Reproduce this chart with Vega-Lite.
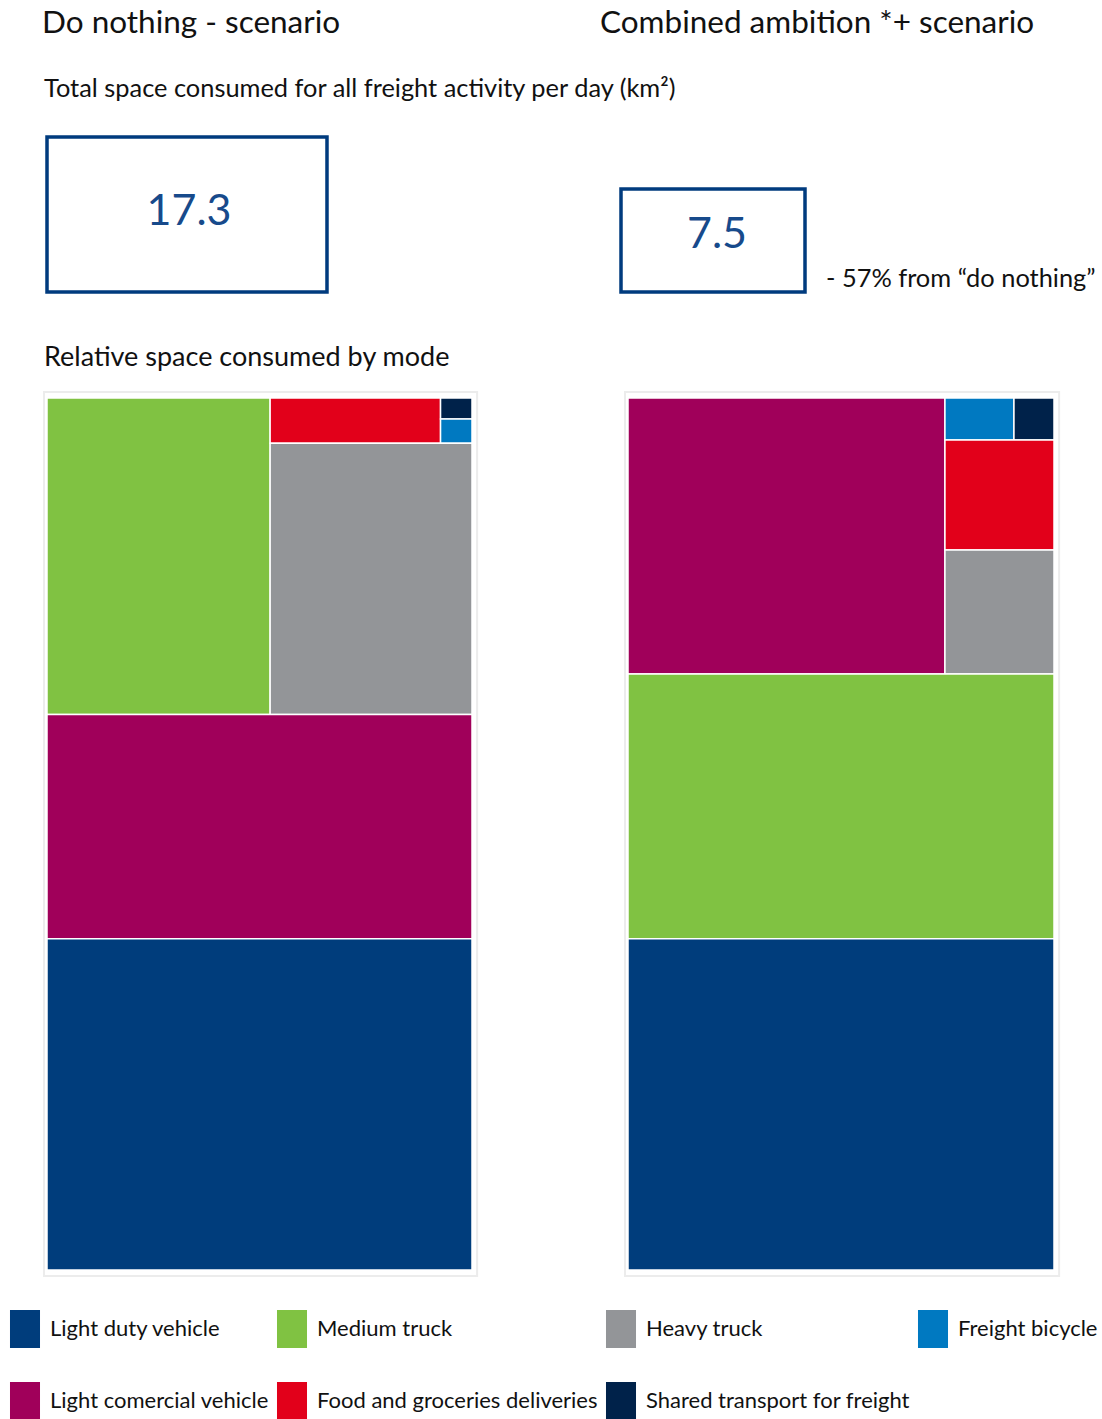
{
  "$schema": "https://vega.github.io/schema/vega-lite/v6.json",
  "padding": {"left": 6, "top": 0, "right": 0, "bottom": 0},
  "autosize": {"type": "pad"},
  "background": "white",
  "config": {"view": {"stroke": null}, "font": "Lato"},
  "datasets": {
    "tiles": [
      {"scenario": "Do nothing", "mode": "Medium truck", "x0": 0, "x1": 52.5, "y0": 0, "y1": 36.3},
      {"scenario": "Do nothing", "mode": "Food and groceries deliveries", "x0": 52.5, "x1": 92.6, "y0": 0, "y1": 5.2},
      {"scenario": "Do nothing", "mode": "Shared transport for freight", "x0": 92.6, "x1": 100, "y0": 0, "y1": 2.4},
      {"scenario": "Do nothing", "mode": "Freight bicycle", "x0": 92.6, "x1": 100, "y0": 2.4, "y1": 5.2},
      {"scenario": "Do nothing", "mode": "Heavy truck", "x0": 52.5, "x1": 100, "y0": 5.2, "y1": 36.3},
      {"scenario": "Do nothing", "mode": "Light comercial vehicle", "x0": 0, "x1": 100, "y0": 36.3, "y1": 62.0},
      {"scenario": "Do nothing", "mode": "Light duty vehicle", "x0": 0, "x1": 100, "y0": 62.0, "y1": 100},
      {"scenario": "Combined ambition", "mode": "Light comercial vehicle", "x0": 0, "x1": 74.4, "y0": 0, "y1": 31.65},
      {"scenario": "Combined ambition", "mode": "Freight bicycle", "x0": 74.4, "x1": 90.6, "y0": 0, "y1": 4.82},
      {"scenario": "Combined ambition", "mode": "Shared transport for freight", "x0": 90.6, "x1": 100, "y0": 0, "y1": 4.82},
      {"scenario": "Combined ambition", "mode": "Food and groceries deliveries", "x0": 74.4, "x1": 100, "y0": 4.82, "y1": 17.43},
      {"scenario": "Combined ambition", "mode": "Heavy truck", "x0": 74.4, "x1": 100, "y0": 17.43, "y1": 31.65},
      {"scenario": "Combined ambition", "mode": "Medium truck", "x0": 0, "x1": 100, "y0": 31.65, "y1": 62.0},
      {"scenario": "Combined ambition", "mode": "Light duty vehicle", "x0": 0, "x1": 100, "y0": 62.0, "y1": 100}
    ],
    "totals": [
      {"scenario": "Do nothing", "total": 17.3},
      {"scenario": "Combined ambition", "total": 7.5}
    ]
  },
  "bounds": "flush",
  "spacing": 156,
  "hconcat": [
    {
      "width": 425,
      "height": 1270,
      "layer": [
        {
          "data": {"values": [{}]},
          "mark": {"type": "rect", "fill": null, "stroke": "#ececec", "strokeWidth": 2},
          "encoding": {
            "x": {"datum": -0.7, "type": "quantitative", "scale": {"domain": [0, 100], "nice": false, "zero": false}, "axis": null},
            "x2": {"datum": 101.2},
            "y": {"datum": -0.7, "type": "quantitative", "scale": {"domain": [-45.642, 100], "reverse": true, "nice": false, "zero": false}, "axis": null},
            "y2": {"datum": 100.7}
          }
        },
        {
          "data": {"name": "tiles"},
          "transform": [{"filter": "datum.scenario === 'Do nothing'"}],
          "mark": {"type": "rect", "stroke": "white", "strokeWidth": 1.5},
          "encoding": {
            "x": {"field": "x0", "type": "quantitative", "scale": {"domain": [0, 100], "nice": false, "zero": false}, "axis": null},
            "x2": {"field": "x1"},
            "y": {"field": "y0", "type": "quantitative", "scale": {"domain": [-45.642, 100], "reverse": true, "nice": false, "zero": false}, "axis": null},
            "y2": {"field": "y1"},
            "color": {
              "field": "mode", "type": "nominal",
              "scale": {
                "domain": ["Light duty vehicle", "Medium truck", "Heavy truck", "Freight bicycle", "Light comercial vehicle", "Food and groceries deliveries", "Shared transport for freight"],
                "range": ["#003D7C", "#80C242", "#939598", "#0079C1", "#A0005A", "#E2001A", "#00224A"]
              },
              "legend": {"orient": "none", "legendX": -41, "legendY": 1310, "columns": 4, "direction": "horizontal", "title": null, "symbolType": "M-0.79,-1H0.79V1H-0.79Z", "symbolSize": 1444, "symbolStrokeWidth": 0, "symbolOpacity": 1, "labelFont": "Lato", "labelFontSize": 22, "labelColor": "#111111", "labelOffset": 6, "columnPadding": 4, "rowPadding": 34, "labelLimit": 400, "padding": 0}
            }
          }
        },
        {
          "data": {"name": "totals"},
          "transform": [{"filter": "datum.scenario === 'Do nothing'"}],
          "mark": {"type": "rect", "fill": null, "stroke": "#003B7E", "strokeWidth": 3.5},
          "encoding": {
            "x": {"datum": 0, "type": "quantitative", "scale": {"domain": [0, 100], "nice": false, "zero": false}, "axis": null},
            "x2": {"datum": 65.88},
            "y": {"datum": -29.93, "type": "quantitative", "scale": {"domain": [-45.642, 100], "reverse": true, "nice": false, "zero": false}, "axis": null},
            "y2": {"datum": -12.155}
          }
        },
        {
          "data": {"name": "totals"},
          "transform": [{"filter": "datum.scenario === 'Do nothing'"}],
          "mark": {"type": "text", "align": "center", "baseline": "middle", "fontSize": 43, "font": "Lato", "color": "#174A8B"},
          "encoding": {
            "x": {"datum": 33.41, "type": "quantitative", "scale": {"domain": [0, 100], "nice": false, "zero": false}, "axis": null},
            "y": {"datum": -21.33, "type": "quantitative", "scale": {"domain": [-45.642, 100], "reverse": true, "nice": false, "zero": false}, "axis": null},
            "text": {"field": "total", "type": "quantitative", "format": ".1f"}
          }
        },
        {
          "data": {"values": [{}]},
          "mark": {"type": "text", "align": "left", "baseline": "alphabetic", "fontSize": 31.5, "font": "Lato", "color": "#111111", "text": "Do nothing - scenario"},
          "encoding": {
            "x": {"datum": -1.18, "type": "quantitative", "scale": {"domain": [0, 100], "nice": false, "zero": false}, "axis": null},
            "y": {"datum": -41.86, "type": "quantitative", "scale": {"domain": [-45.642, 100], "reverse": true, "nice": false, "zero": false}, "axis": null}
          }
        },
        {
          "data": {"values": [{}]},
          "mark": {"type": "text", "align": "left", "baseline": "alphabetic", "fontSize": 25.4, "font": "Lato", "color": "#111111", "text": "Total space consumed for all freight activity per day (km²)"},
          "encoding": {
            "x": {"datum": -0.7, "type": "quantitative", "scale": {"domain": [0, 100], "nice": false, "zero": false}, "axis": null},
            "y": {"datum": -34.52, "type": "quantitative", "scale": {"domain": [-45.642, 100], "reverse": true, "nice": false, "zero": false}, "axis": null}
          }
        },
        {
          "data": {"values": [{}]},
          "mark": {"type": "text", "align": "left", "baseline": "alphabetic", "fontSize": 27, "font": "Lato", "color": "#111111", "text": "Relative space consumed by mode"},
          "encoding": {
            "x": {"datum": -0.7, "type": "quantitative", "scale": {"domain": [0, 100], "nice": false, "zero": false}, "axis": null},
            "y": {"datum": -3.67, "type": "quantitative", "scale": {"domain": [-45.642, 100], "reverse": true, "nice": false, "zero": false}, "axis": null}
          }
        }
      ]
    },
    {
      "width": 426,
      "height": 1270,
      "layer": [
        {
          "data": {"values": [{}]},
          "mark": {"type": "rect", "fill": null, "stroke": "#ececec", "strokeWidth": 2},
          "encoding": {
            "x": {"datum": -0.7, "type": "quantitative", "scale": {"domain": [0, 100], "nice": false, "zero": false}, "axis": null},
            "x2": {"datum": 101.2},
            "y": {"datum": -0.7, "type": "quantitative", "scale": {"domain": [-45.642, 100], "reverse": true, "nice": false, "zero": false}, "axis": null},
            "y2": {"datum": 100.7}
          }
        },
        {
          "data": {"name": "tiles"},
          "transform": [{"filter": "datum.scenario === 'Combined ambition'"}],
          "mark": {"type": "rect", "stroke": "white", "strokeWidth": 1.5},
          "encoding": {
            "x": {"field": "x0", "type": "quantitative", "scale": {"domain": [0, 100], "nice": false, "zero": false}, "axis": null},
            "x2": {"field": "x1"},
            "y": {"field": "y0", "type": "quantitative", "scale": {"domain": [-45.642, 100], "reverse": true, "nice": false, "zero": false}, "axis": null},
            "y2": {"field": "y1"},
            "color": {
              "field": "mode", "type": "nominal",
              "scale": {
                "domain": ["Light duty vehicle", "Medium truck", "Heavy truck", "Freight bicycle", "Light comercial vehicle", "Food and groceries deliveries", "Shared transport for freight"],
                "range": ["#003D7C", "#80C242", "#939598", "#0079C1", "#A0005A", "#E2001A", "#00224A"]
              },
              "legend": {"orient": "none", "legendX": -41, "legendY": 1310, "columns": 4, "direction": "horizontal", "title": null, "symbolType": "M-0.79,-1H0.79V1H-0.79Z", "symbolSize": 1444, "symbolStrokeWidth": 0, "symbolOpacity": 1, "labelFont": "Lato", "labelFontSize": 22, "labelColor": "#111111", "labelOffset": 6, "columnPadding": 4, "rowPadding": 34, "labelLimit": 400, "padding": 0}
            }
          }
        },
        {
          "data": {"name": "totals"},
          "transform": [{"filter": "datum.scenario === 'Combined ambition'"}],
          "mark": {"type": "rect", "fill": null, "stroke": "#003B7E", "strokeWidth": 3.5},
          "encoding": {
            "x": {"datum": -1.643, "type": "quantitative", "scale": {"domain": [0, 100], "nice": false, "zero": false}, "axis": null},
            "x2": {"datum": 41.55},
            "y": {"datum": -23.97, "type": "quantitative", "scale": {"domain": [-45.642, 100], "reverse": true, "nice": false, "zero": false}, "axis": null},
            "y2": {"datum": -12.155}
          }
        },
        {
          "data": {"name": "totals"},
          "transform": [{"filter": "datum.scenario === 'Combined ambition'"}],
          "mark": {"type": "text", "align": "center", "baseline": "middle", "fontSize": 43, "font": "Lato", "color": "#174A8B"},
          "encoding": {
            "x": {"datum": 20.89, "type": "quantitative", "scale": {"domain": [0, 100], "nice": false, "zero": false}, "axis": null},
            "y": {"datum": -18.69, "type": "quantitative", "scale": {"domain": [-45.642, 100], "reverse": true, "nice": false, "zero": false}, "axis": null},
            "text": {"field": "total", "type": "quantitative", "format": ".1f"}
          }
        },
        {
          "data": {"values": [{}]},
          "mark": {"type": "text", "align": "left", "baseline": "alphabetic", "fontSize": 31.5, "font": "Lato", "color": "#111111", "text": "Combined ambition *+ scenario"},
          "encoding": {
            "x": {"datum": -6.57, "type": "quantitative", "scale": {"domain": [0, 100], "nice": false, "zero": false}, "axis": null},
            "y": {"datum": -41.86, "type": "quantitative", "scale": {"domain": [-45.642, 100], "reverse": true, "nice": false, "zero": false}, "axis": null}
          }
        },
        {
          "data": {"values": [{}]},
          "mark": {"type": "text", "align": "left", "baseline": "alphabetic", "fontSize": 25.4, "font": "Lato", "color": "#111111", "text": "- 57% from “do nothing”"},
          "encoding": {
            "x": {"datum": 46.48, "type": "quantitative", "scale": {"domain": [0, 100], "nice": false, "zero": false}, "axis": null},
            "y": {"datum": -12.73, "type": "quantitative", "scale": {"domain": [-45.642, 100], "reverse": true, "nice": false, "zero": false}, "axis": null}
          }
        }
      ]
    }
  ]
}
